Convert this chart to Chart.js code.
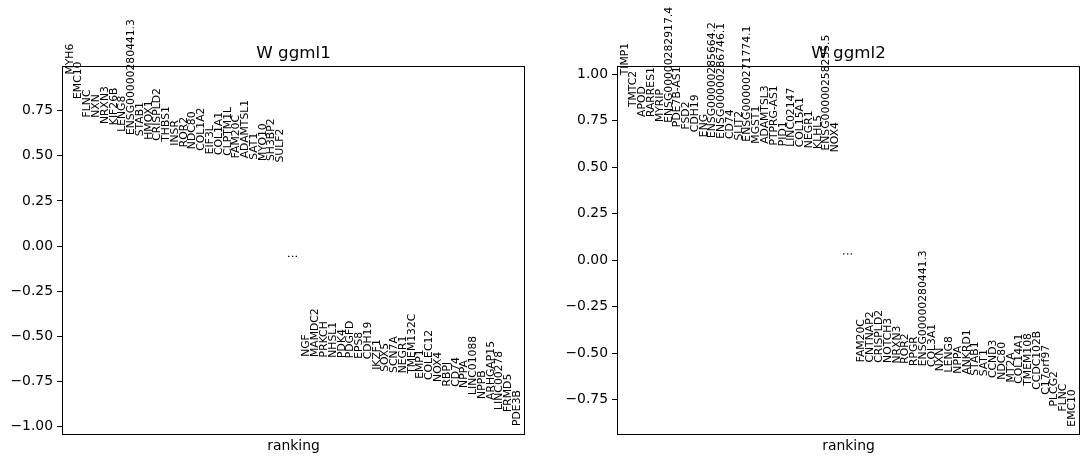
<!DOCTYPE html>
<html>
<head>
<meta charset="utf-8">
<script src="https://cdn.jsdelivr.net/npm/chart.js@4.4.1/dist/chart.umd.min.js"></script>
<style>
  html, body { margin: 0; padding: 0; background: #fff; }
  body { width: 1089px; height: 465px; position: relative; overflow: hidden; }
  .panel { position: absolute; top: 0; width: 534px; height: 465px; }
</style>
</head>
<body>
<div class="panel" style="left:0px"><canvas id="c1" width="534" height="465"></canvas></div>
<div class="panel" style="left:555px"><canvas id="c2" width="534" height="465"></canvas></div>
<script>
// ---------------- data ----------------
const titles = ["W ggml1", "W ggml2"];
const xAxisLabel = "ranking";
const yTickStep = 0.25;
const midMarker = "\u22EE";

const ggml1TopGenes = ["MYH6","EMC10","FLNC","NXN","NRXN3","KIF26B","LENG8","ENSG00000280441.3","STAB1","HMOX1","CRISPLD2","THBS1","INSR","ROR2","NDC80","COL1A2","EIF3L","COL1A1","CLPTM1L","FAM20C","ADAMTSL1","SAT1","MYO10","SH3BP2","SULF2"];
const ggml1TopScores = [0.950,0.815,0.713,0.711,0.676,0.670,0.633,0.615,0.608,0.589,0.583,0.578,0.556,0.547,0.537,0.528,0.509,0.504,0.500,0.487,0.486,0.478,0.472,0.471,0.463];
const ggml1BottomGenes = ["NGF","MAMDC2","PRKCH","NHSL1","PDK4","PDGFD","EPS8","CDH19","IKZF1","SOX5","SCN7A","NEGR1","TMEM132C","EMP1","COLEC12","NOX4","RBPJ","CD74","NPPA","LINC01088","NPPB","ARHGAP15","LINC00278","FRMD5","PDE3B"];
const ggml1BottomScores = [-0.613,-0.614,-0.616,-0.618,-0.619,-0.621,-0.624,-0.627,-0.685,-0.696,-0.702,-0.704,-0.707,-0.735,-0.741,-0.752,-0.777,-0.779,-0.785,-0.824,-0.846,-0.852,-0.907,-0.918,-0.996];

const ggml2TopGenes = ["TIMP1","TMTC2","APOD","RARRES1","MYRIP","ENSG00000282917.4","PDE7B-AS1","FSD2","CDH19","ENG","ENSG00000285664.2","ENSG00000286746.1","CD74","SLIT2","ENSG00000271774.1","MGST1","ADAMTSL3","PTPRG-AS1","PID1","LINC02147","COL15A1","NEGR1","KLHL5","ENSG00000258235.5","NOX4"];
const ggml2TopScores = [0.995,0.824,0.771,0.770,0.743,0.739,0.716,0.703,0.689,0.662,0.657,0.653,0.652,0.644,0.638,0.627,0.626,0.617,0.613,0.610,0.608,0.603,0.599,0.590,0.581];
const ggml2BottomGenes = ["FAM20C","CNTNAP2","CRISPLD2","NOTCH3","NRXN3","ROR2","RPGR","ENSG00000280441.3","COL3A1","NXN","LENG8","NPPA","ANKRD1","STAB1","SAT1","CCND3","NDC80","MT2A","COL14A1","TMEM108","CCDC102B","C17orf97","PLCG2","FLNC","EMC10"];
const ggml2BottomScores = [-0.549,-0.550,-0.551,-0.552,-0.555,-0.556,-0.569,-0.570,-0.574,-0.597,-0.603,-0.610,-0.615,-0.621,-0.624,-0.633,-0.642,-0.657,-0.664,-0.675,-0.696,-0.723,-0.786,-0.813,-0.895];

// ---------------- build ----------------
function buildPoints(topGenes, topScores, bottomGenes, bottomScores) {
  const pts = [];
  topGenes.forEach((g, i) => pts.push({ x: i, y: topScores[i], label: g }));
  const nTop = topGenes.length;
  const mid = (topScores[nTop - 1] + bottomScores[0]) / 2;
  pts.push({ x: nTop, y: mid, label: midMarker, marker: true });
  bottomGenes.forEach((g, j) => pts.push({ x: nTop + 2 + j, y: bottomScores[j], label: g }));
  return pts;
}

const FONT = '"DejaVu Sans", sans-serif';

const labelPlugin = {
  id: 'rankLabels',
  afterDatasetsDraw(chart) {
    const ctx = chart.ctx;
    const xs = chart.scales.x, ys = chart.scales.y;
    const pts = chart.data.datasets[0].data;
    ctx.save();
    ctx.fillStyle = '#000';
    ctx.font = '10.8px ' + FONT;
    ctx.textAlign = 'left';
    ctx.textBaseline = 'middle';
    pts.forEach(p => {
      const px = xs.getPixelForValue(p.x) + (p.marker ? 4 : 0);
      const py = ys.getPixelForValue(p.y) + (p.marker ? 2 : 0);
      ctx.save();
      ctx.translate(px, py);
      ctx.rotate(-Math.PI / 2);
      ctx.fillText(p.label, 0, 0);
      ctx.restore();
    });
    ctx.restore();
  },
  afterDraw(chart) {
    const ctx = chart.ctx;
    const a = chart.chartArea;
    ctx.save();
    ctx.strokeStyle = '#000';
    ctx.lineWidth = 1;
    ctx.strokeRect(Math.round(a.left) + 0.5, Math.round(a.top) + 0.5, Math.round(a.right - a.left) - 1, Math.round(a.bottom - a.top) - 1);
    ctx.fillStyle = '#000';
    ctx.textAlign = 'center';
    ctx.textBaseline = 'alphabetic';
    ctx.font = '16.7px ' + FONT;
    ctx.fillText(chart.options.plugins.rankLabels.title, (a.left + a.right) / 2, a.top - 8.5);
    ctx.font = '13.9px ' + FONT;
    ctx.fillText(xAxisLabel, (a.left + a.right) / 2, 450);
    ctx.restore();
  }
};

function fmtTick(v) {
  const s = Math.abs(v).toFixed(2);
  return (v < -1e-9 ? '\u2212' : '') + s;
}

function makeChart(id, title, topGenes, topScores, bottomGenes, bottomScores) {
  const pts = buildPoints(topGenes, topScores, bottomGenes, bottomScores);
  const nPoints = topGenes.length + bottomGenes.length;
  const sMin = Math.min(...bottomScores);
  const sMax = Math.max(...topScores);
  new Chart(document.getElementById(id), {
    type: 'scatter',
    data: { datasets: [{ data: pts, pointRadius: 0, pointHoverRadius: 0, showLine: false }] },
    plugins: [labelPlugin],
    options: {
      responsive: false,
      animation: false,
      events: [],
      layout: { padding: { left: 0, right: 9, top: 66, bottom: 30 } },
      plugins: {
        legend: { display: false },
        tooltip: { enabled: false },
        title: { display: false },
        rankLabels: { title: title }
      },
      scales: {
        x: {
          type: 'linear',
          display: false,
          min: -0.9,
          max: nPoints + 0.9 + 1
        },
        y: {
          type: 'linear',
          min: (sMin > 0 ? 0.95 : 1.05) * sMin,
          max: (sMax > 0 ? 1.05 : 0.95) * sMax,
          afterFit: (axis) => { axis.width = 62; },
          border: { display: false },
          grid: { drawOnChartArea: false, drawTicks: true, tickLength: 5, color: '#000', lineWidth: 1 },
          ticks: {
            stepSize: yTickStep,
            includeBounds: false,
            color: '#000',
            padding: 4,
            font: { family: FONT, size: 13.9 },
            callback: (v) => fmtTick(v)
          }
        }
      }
    }
  });
}

makeChart('c1', titles[0], ggml1TopGenes, ggml1TopScores, ggml1BottomGenes, ggml1BottomScores);
makeChart('c2', titles[1], ggml2TopGenes, ggml2TopScores, ggml2BottomGenes, ggml2BottomScores);
</script>
</body>
</html>
